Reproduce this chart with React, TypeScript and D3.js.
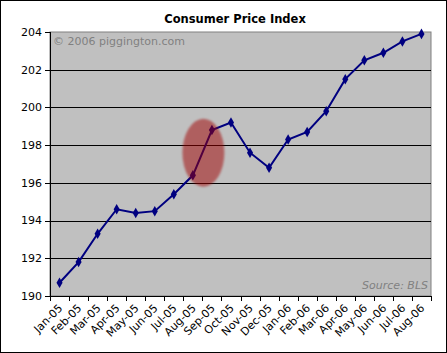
import React from "react";
import * as d3 from "d3";

const categories = ["Jan-05","Feb-05","Mar-05","Apr-05","May-05","Jun-05","Jul-05","Aug-05","Sep-05","Oct-05","Nov-05","Dec-05","Jan-06","Feb-06","Mar-06","Apr-06","May-06","Jun-06","Jul-06","Aug-06"];
const cpi = [190.7,191.8,193.3,194.6,194.4,194.5,195.4,196.4,198.8,199.2,197.6,196.8,198.3,198.7,199.8,201.5,202.5,202.9,203.5,203.9];
const yTicks = [190,192,194,196,198,200,202,204];
const highlight = { from: "Aug-05", to: "Sep-05", center: 197.6, halfSpan: 1.8 };

const W = 447, H = 353;
const m = { left: 50, right: 16, top: 32, bottom: 57 };
const font = "'DejaVu Sans', Verdana, sans-serif";

export default function App() {
  const x = d3.scaleBand<string>().domain(categories).range([m.left, W - m.right]);
  const y = d3.scaleLinear().domain([190, 204]).range([H - m.bottom, m.top]);
  const cx = (c: string) => (x(c) as number) + x.bandwidth() / 2;
  const line = d3.line<number>().x((_, i) => cx(categories[i])).y((d) => y(d));
  const diamond = d3.symbol().type(d3.symbolDiamond).size(32)();
  const x0 = m.left, x1 = W - m.right, y0 = m.top, y1 = H - m.bottom;
  const ex = (cx(highlight.from) + cx(highlight.to)) / 2 + 1;
  const ey = y(highlight.center);
  const ery = y(highlight.center - highlight.halfSpan) - ey;
  return (
    <svg width={W} height={H} style={{ position: "absolute", left: 0, top: 0, background: "#fff" }} fontFamily={font}>
      <defs>
        <filter id="soft" x="-20%" y="-20%" width="140%" height="140%">
          <feGaussianBlur stdDeviation="0.8" />
        </filter>
      </defs>
      <rect x={0.5} y={0.5} width={W - 1} height={H - 1} fill="#fff" stroke="#000" />
      <text x={235} y={23} textAnchor="middle" fontWeight="bold" fontSize={11.5}>Consumer Price Index</text>
      <rect x={x0} y={y0} width={x1 - x0} height={y1 - y0} fill="#c0c0c0" stroke="#808080" />
      {yTicks.slice(1, -1).map((t) => (
        <line key={t} x1={x0} x2={x1} y1={Math.round(y(t)) + 0.5} y2={Math.round(y(t)) + 0.5} stroke="#000" />
      ))}
      <line x1={x0 + 0.5} x2={x0 + 0.5} y1={y0} y2={y1} stroke="#000" />
      <line x1={x0} x2={x1} y1={y1 + 0.5} y2={y1 + 0.5} stroke="#000" />
      {yTicks.map((t) => (
        <g key={t}>
          <line x1={x0 - 5} x2={x0} y1={Math.round(y(t)) + 0.5} y2={Math.round(y(t)) + 0.5} stroke="#000" />
          <text x={x0 - 8} y={y(t)} dy="0.35em" textAnchor="end" fontSize={11}>{t}</text>
        </g>
      ))}
      {categories.concat([""]).map((c, i) => {
        const xx = Math.round(m.left + i * x.bandwidth()) + 0.5;
        return <line key={"t" + i} x1={xx} x2={xx} y1={y1} y2={y1 + 5} stroke="#000" />;
      })}
      {categories.map((c) => (
        <text key={c} transform={`translate(${cx(c) + 1},${y1 + 10}) rotate(-45)`} textAnchor="end" dy="0.35em" fontSize={11}>{c}</text>
      ))}
      <text x={x0 + 3} y={y0 + 13} fontSize={11} fill="#808080">© 2006 piggington.com</text>
      <text x={x1 - 3} y={y1 - 7} fontSize={11} fill="#808080" fontStyle="italic" textAnchor="end">Source: BLS</text>
      <path d={line(cpi) as string} fill="none" stroke="#000080" strokeWidth={2} />
      {cpi.map((v, i) => (
        <path key={i} d={diamond as string} transform={`translate(${cx(categories[i])},${y(v)})`} fill="#000080" />
      ))}
      <ellipse cx={ex} cy={ey} rx={21} ry={ery} fill="#a00000" opacity={0.5} filter="url(#soft)" />
    </svg>
  );
}
